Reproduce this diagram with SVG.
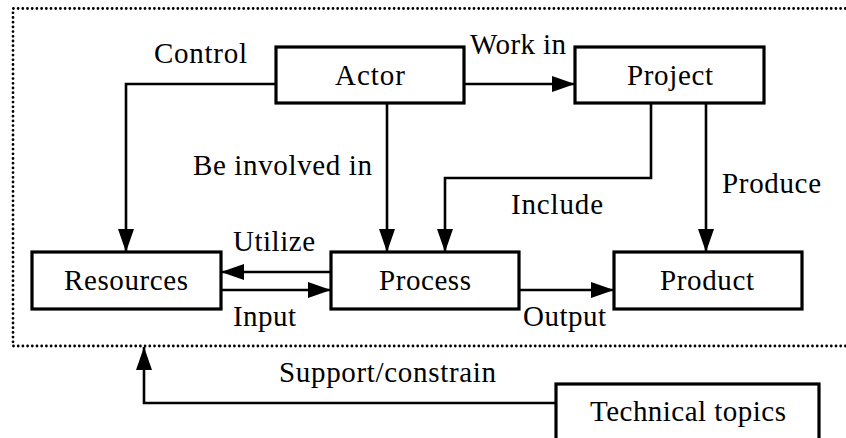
<svg xmlns="http://www.w3.org/2000/svg" width="846" height="438" viewBox="0 0 846 438">
<defs>
<marker id="ah" viewBox="0 0 23 16" refX="23" refY="8" markerWidth="23" markerHeight="16" markerUnits="userSpaceOnUse" orient="auto">
<path d="M0,0 L23,8 L0,16 Z" fill="#000"/>
</marker>
</defs>
<style>
.box{fill:#fff;stroke:#000;stroke-width:3.2}
.c{stroke:#000;stroke-width:2.6;fill:none}
.dot{stroke:#000;stroke-width:2.8;fill:none;stroke-dasharray:0 4.7;stroke-linecap:round}
</style>
<rect width="846" height="438" fill="#fff"/>
<path class="dot" d="M850,8.5 L13,8.5 L13,346 L850,346"/>
<g font-family="Tinos, 'Liberation Serif', 'Times New Roman', Times, 'DejaVu Serif', serif" font-size="29" fill="#000">
<g id="connectors">
<path class="c" d="M276,84 L126,84 L126,252" marker-end="url(#ah)"/>
<path class="c" d="M464,84 L575,84" marker-end="url(#ah)"/>
<path class="c" d="M387,103 L387,252" marker-end="url(#ah)"/>
<path class="c" d="M651,103 L651,178 L445,178 L445,252" marker-end="url(#ah)"/>
<path class="c" d="M706,103 L706,252" marker-end="url(#ah)"/>
<path class="c" d="M331,272 L221,272" marker-end="url(#ah)"/>
<path class="c" d="M218,290 L331,290" marker-end="url(#ah)"/>
<path class="c" d="M519,290 L614,290" marker-end="url(#ah)"/>
<path class="c" d="M556,403 L144,403 L144,347" marker-end="url(#ah)"/>
<text x="154" y="63" textLength="93">Control</text>
<text x="470" y="54" textLength="96">Work in</text>
<text x="193" y="175" textLength="179">Be involved in</text>
<text x="511" y="214" textLength="92">Include</text>
<text x="722" y="193" textLength="99">Produce</text>
<text x="233" y="251" textLength="82">Utilize</text>
<text x="233" y="326" textLength="63">Input</text>
<text x="523" y="326" textLength="83">Output</text>
<text x="279" y="382" textLength="217">Support/constrain</text>
</g>
<g id="actor"><rect class="box" x="276" y="47" width="188" height="56"/><text x="335" y="85" textLength="70">Actor</text></g>
<g id="project"><rect class="box" x="575" y="47" width="189" height="56"/><text x="627" y="85" textLength="86">Project</text></g>
<g id="resources"><rect class="box" x="32" y="252" width="189" height="57"/><text x="64" y="290" textLength="124">Resources</text></g>
<g id="process"><rect class="box" x="331" y="252" width="188" height="57"/><text x="379" y="290" textLength="92">Process</text></g>
<g id="product"><rect class="box" x="614" y="252" width="188" height="57"/><text x="660" y="290" textLength="94">Product</text></g>
<g id="technical-topics"><rect class="box" x="556" y="384" width="263" height="70"/><text x="590" y="421" textLength="196">Technical topics</text></g>
</g>
</svg>
